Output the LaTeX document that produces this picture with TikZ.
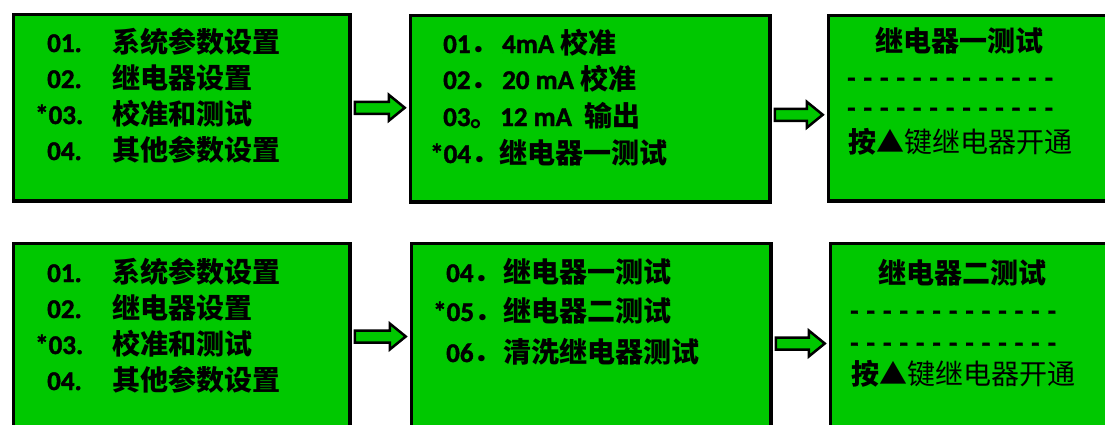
\documentclass[tikz,border=0pt]{standalone}
\usepackage{fontspec}
\setmainfont{Carlito}[BoldFeatures={FakeBold=1.5}]
\newfontfamily\cjk{Noto Sans CJK SC}
\usetikzlibrary{calc}

\definecolor{lcdgreen}{RGB}{0,200,0}
\newcommand{\zh}[1]{{\cjk\fontsize{28}{32}\selectfont #1}}
\newcommand{\dashline}{{\spaceskip=8.2pt\relax - - - - - - - - - - - - -}}

\tikzset{
  lcdbox/.style={draw=black, fill=lcdgreen, line width=3.5pt, anchor=north west, inner sep=0pt},
  num/.style={anchor=base west, inner sep=0pt, font=\fontsize{27}{32}\selectfont\bfseries},
  zhtext/.style={anchor=base west, inner sep=0pt, font=\fontsize{28}{32}\selectfont\cjk\bfseries},
  zhlight/.style={anchor=base west, inner sep=0pt, font=\fontsize{28}{32}\selectfont\cjk},
  fatarrow/.style={draw=black, fill=lcdgreen, line width=2.5pt, to path={
    let \p1=(\tikztostart), \p2=(\tikztotarget) in
    (\x1,\y1+6pt) -- (\x2-16pt,\y1+6pt) -- (\x2-16pt,\y1+13pt) -- (\x2,\y1)
    -- (\x2-16pt,\y1-13pt) -- (\x2-16pt,\y1-6pt) -- (\x1,\y1-6pt) -- cycle}}
}

\begin{document}
\begin{tikzpicture}[x=1pt, y=-1pt]

%% Fixed frame, same size as the screen shot
\useasboundingbox (0,0) rectangle (1105,424);

%% Screens, first row
\node[lcdbox, minimum width=336.5, minimum height=186.5] (menuA) at (11.75,12.75) {};
\node[lcdbox, minimum width=359.5, minimum height=186.5] (calA) at (408.75,13.75) {};
\node[lcdbox, minimum width=300, minimum height=185.5] (relayA) at (826.75,13.75) {};

%% Screens, second row
\node[lcdbox, minimum width=336.5, minimum height=200] (menuB) at (11.75,241.75) {};
\node[lcdbox, minimum width=359.5, minimum height=200] (calB) at (409.75,241.75) {};
\node[lcdbox, minimum width=300, minimum height=200] (relayB) at (828.75,241.75) {};

%% Main menu, first row
\node[num] (a01) at (47,52) {01.};
\node[num] (a02) at (47,88) {02.};
\node[num] (a03) at (35,124) {*03.};
\node[num] (a04) at (47,160) {04.};
\node[zhtext] (a01t) at (112,52) {系统参数设置};
\node[zhtext] (a02t) at (112,88) {继电器设置};
\node[zhtext] (a03t) at (112,124) {校准和测试};
\node[zhtext] (a04t) at (112,160) {其他参数设置};

%% Calibration menu
\node[num] (b01) at (443,53) {01\zh{．}};
\node[num] (b02) at (443,89) {02\zh{．}};
\node[num] (b03) at (443,126) {03\zh{。}};
\node[num] (b04) at (430,163) {*04\zh{．}};
\node[num] (b01t) at (502,53) {4mA \zh{校准}};
\node[num] (b02t) at (502,89) {20 mA \zh{校准}};
\node[num] (b03t) at (500,126) {12 mA\ \ \zh{输出}};
\node[zhtext] (b04t) at (499,163) {继电器一测试};

%% Relay one
\node[zhtext] (c0) at (875,51) {继电器一测试};
\node[num] (c1) at (847,87) {\dashline};
\node[num] (c2) at (847,117) {\dashline};
\node[zhlight] (c3) at (848,152) {{\bfseries 按}▲键继电器开通};

%% Main menu, second row
\node[num] (d01) at (47,282) {01.};
\node[num] (d02) at (47,318) {02.};
\node[num] (d03) at (35,354) {*03.};
\node[num] (d04) at (47,390) {04.};
\node[zhtext] (d01t) at (112,282) {系统参数设置};
\node[zhtext] (d02t) at (112,318) {继电器设置};
\node[zhtext] (d03t) at (112,354) {校准和测试};
\node[zhtext] (d04t) at (112,390) {其他参数设置};

%% Relay test menu
\node[num] (e04) at (446,282) {04\zh{．}};
\node[num] (e05) at (433,321) {*05\zh{．}};
\node[num] (e06) at (446,362) {06\zh{．}};
\node[zhtext] (e04t) at (503,282) {继电器一测试};
\node[zhtext] (e05t) at (503,321) {继电器二测试};
\node[zhtext] (e06t) at (503,362) {清洗继电器测试};

%% Relay two
\node[zhtext] (f0) at (878,283) {继电器二测试};
\node[num] (f1) at (850,320) {\dashline};
\node[num] (f2) at (850,352) {\dashline};
\node[zhlight] (f3) at (851,384) {{\bfseries 按}▲键继电器开通};

%% Arrows
\draw[fatarrow] ([xshift=3pt]menuA.east) to ([xshift=-4pt]calA.west);
\draw[fatarrow] ([xshift=3pt, yshift=-6pt]calA.east) to ([xshift=-4pt, yshift=-6pt]relayA.west);
\draw[fatarrow] ([xshift=3pt, yshift=7pt]menuB.east) to ([xshift=-4pt, yshift=7pt]calB.west);
\draw[fatarrow] ([xshift=3pt]calB.east) to ([xshift=-4pt]relayB.west);

\end{tikzpicture}
\end{document}
